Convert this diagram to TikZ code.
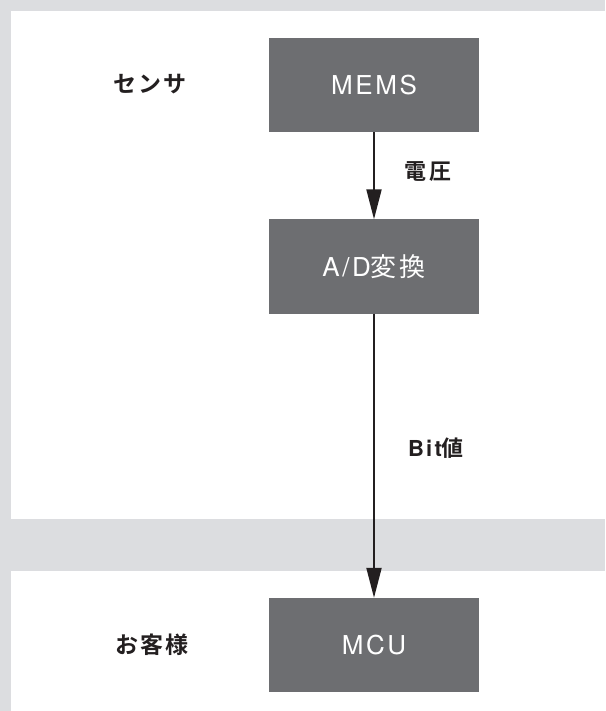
\documentclass[tikz,border=0pt]{standalone}
\usepackage{fontspec}
\setmainfont{Noto Sans CJK JP}
\newfontfamily\boxcjk[LetterSpace=10]{Noto Sans CJK JP}
\newfontfamily\boxlat[LetterSpace=10]{TeX Gyre Heros}
\newfontfamily\labcjk[LetterSpace=10]{Noto Sans CJK JP Bold}
\newfontfamily\lablat[LetterSpace=10]{TeX Gyre Heros}
\usetikzlibrary{arrows.meta}
\definecolor{bggray}{HTML}{DCDDE0}
\definecolor{boxgray}{HTML}{6D6E71}
\definecolor{ink}{HTML}{231F20}
\tikzset{
  x=1pt, y=-1pt,
  blockbox/.style={fill=boxgray, draw=none, minimum width=210pt, minimum height=94pt, inner sep=0pt, text=white, font=\fontsize{26}{30}\selectfont},
  rowlabel/.style={text=ink, font=\fontsize{23}{27}\selectfont, inner sep=0pt},
  flowlabel/.style={text=ink, font=\fontsize{22}{26}\selectfont, inner sep=0pt},
  flow/.style={draw=ink, line width=2pt, -{Triangle[length=30pt, width=15pt]}}
}
\begin{document}
\begin{tikzpicture}
\useasboundingbox (0,0) rectangle (605,711);
\fill[bggray] (0,0) rectangle (605,711);
\fill[white] (11,11) rectangle (605,519);
\fill[white] (11,571) rectangle (605,711);
\node[blockbox] (mems) at (374,85) {\boxlat MEMS};
\node[blockbox] (ad) at (374,266.5) {{\boxlat A/D}{\boxcjk 変換}};
\node[blockbox] (mcu) at (374,645) {\boxlat MCU};
\node[rowlabel] (sensor) at (150,84) {\labcjk センサ};
\node[rowlabel] (customer) at (152,645) {\labcjk お客様};
\node[flowlabel] (volt) at (428,172) {\labcjk 電圧};
\node[flowlabel] (bit) at (436,448) {{\lablat\bfseries Bit}{\labcjk 値}};
\draw[flow] (mems) -- (ad);
\draw[flow] (ad) -- (mcu);
\end{tikzpicture}
\end{document}
